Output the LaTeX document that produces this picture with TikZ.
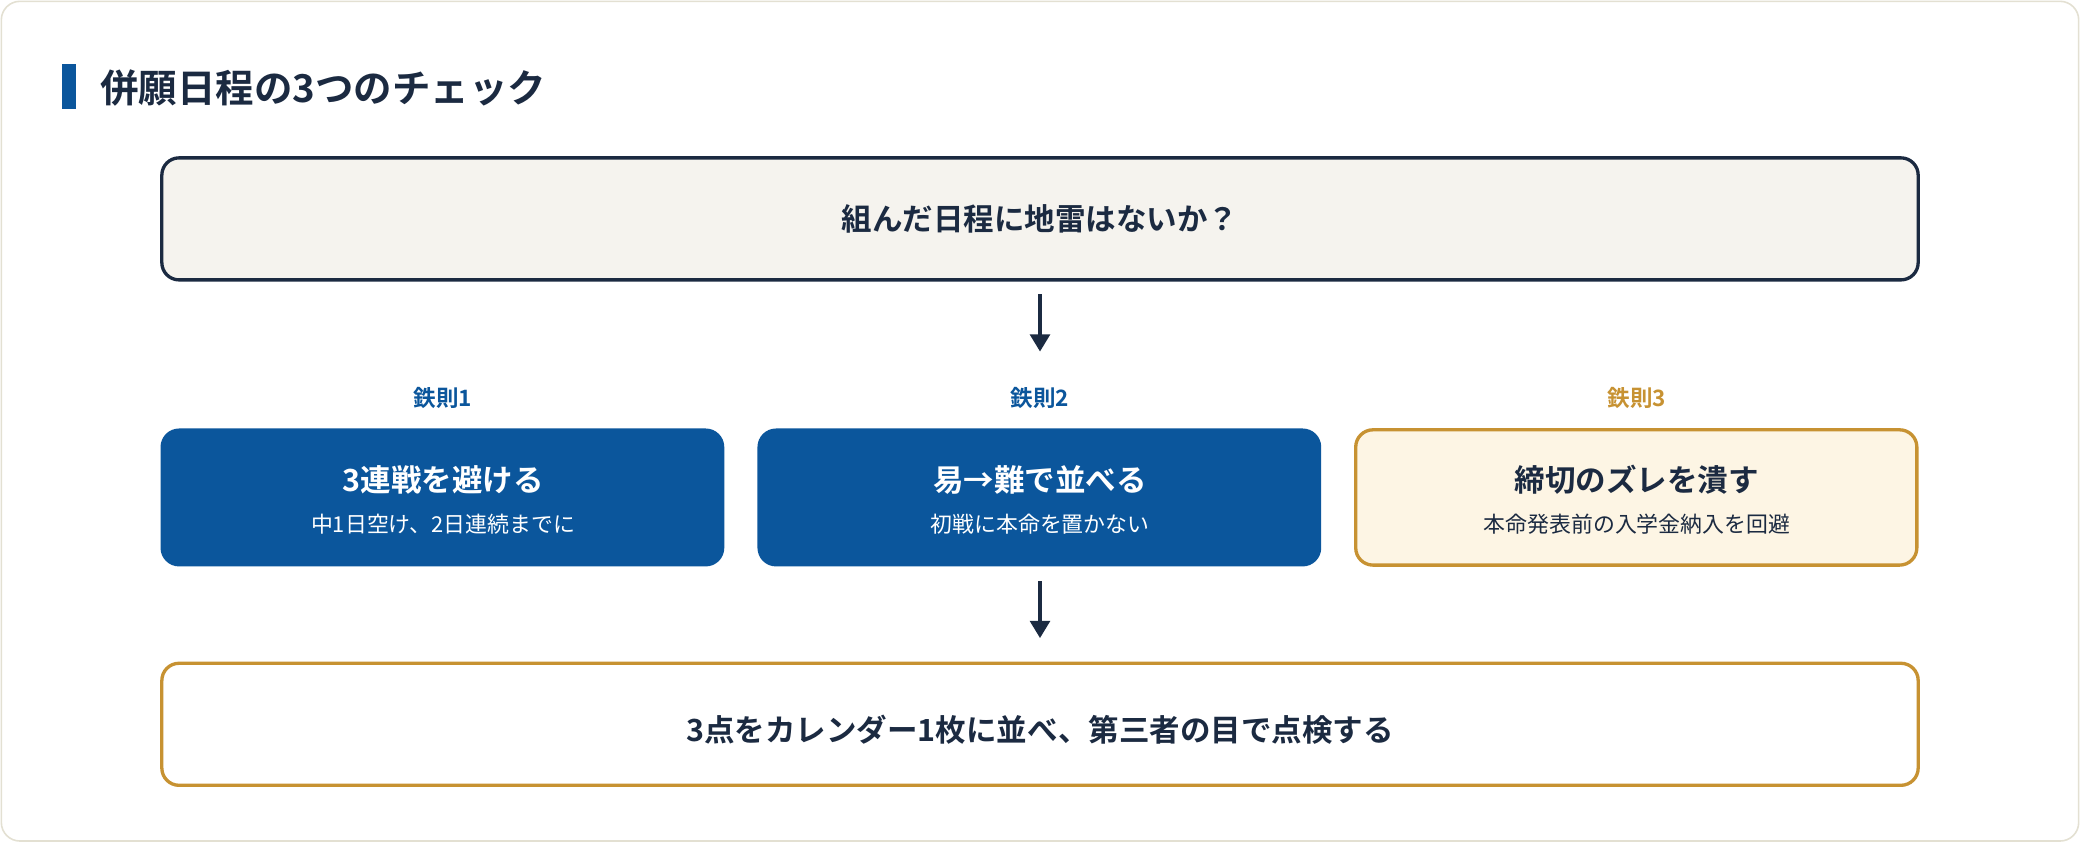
\documentclass[tikz,border=0pt]{standalone}
\usepackage{fontspec}
\setmainfont{Noto Sans CJK JP}
\newfontfamily\cjkb{Noto Sans CJK JP Bold}
\usetikzlibrary{arrows.meta}
\definecolor{navy}{HTML}{1B2A41}
\definecolor{blu}{HTML}{0B569C}
\definecolor{gold}{HTML}{C79232}
\definecolor{cream}{HTML}{FDF5E4}
\definecolor{paper}{HTML}{F5F3EE}
\definecolor{frame}{HTML}{E3E0D2}
\begin{document}
\begin{tikzpicture}[x=1pt,y=-1pt,
  box/.style={rounded corners=13pt,line width=2.5pt},
  arr/.style={navy,line width=2.5pt,-{Triangle[length=13pt,width=15pt]}},
  rule/.style={font=\cjkb\fontsize{17}{20}\selectfont},
  ttl/.style={font=\cjkb\fontsize{23}{28}\selectfont},
  sub/.style={font=\fontsize{16.5}{20}\selectfont}]
\useasboundingbox (0,0) rectangle (1568,635);
\draw[frame,fill=white,line width=1.2pt,rounded corners=14pt] (1,1) rectangle (1567,634);
\fill[blu] (47,48) rectangle (57,82);
\node[anchor=west,navy,font=\cjkb\fontsize{29}{34}\selectfont] (title) at (72,66) {併願日程の3つのチェック};
\draw[box,navy,fill=paper] (122,119) rectangle (1446,211);
\node[navy,ttl] (top) at (784,165) {組んだ日程に地雷はないか？};
\coordinate (a1) at (784,222); \coordinate (a2) at (784,265);
\draw[arr] (a1) -- (a2);
\node[blu,rule] (r1) at (334,300) {鉄則1};
\node[blu,rule] (r2) at (784,300) {鉄則2};
\node[gold,rule] (r3) at (1234,300) {鉄則3};
\fill[blu,rounded corners=14pt] (121,323) rectangle (546,427);
\fill[blu,rounded corners=14pt] (571,323) rectangle (996,427);
\draw[box,gold,fill=cream] (1022,324) rectangle (1445,426);
\node[white,ttl] (t1) at (334,362) {3連戦を避ける};
\node[white,sub] (s1) at (334,395) {中1日空け、2日連続までに};
\node[white,ttl] (t2) at (784,362) {易→難で並べる};
\node[white,sub] (s2) at (784,395) {初戦に本命を置かない};
\node[navy,ttl] (t3) at (1234,362) {締切のズレを潰す};
\node[navy,sub] (s3) at (1234,395) {本命発表前の入学金納入を回避};
\coordinate (b1) at (784,438); \coordinate (b2) at (784,481);
\draw[arr] (b1) -- (b2);
\draw[box,gold,fill=white] (122,500) rectangle (1446,592);
\node[navy,ttl] (bot) at (784,550) {3点をカレンダー1枚に並べ、第三者の目で点検する};
\end{tikzpicture}
\end{document}
